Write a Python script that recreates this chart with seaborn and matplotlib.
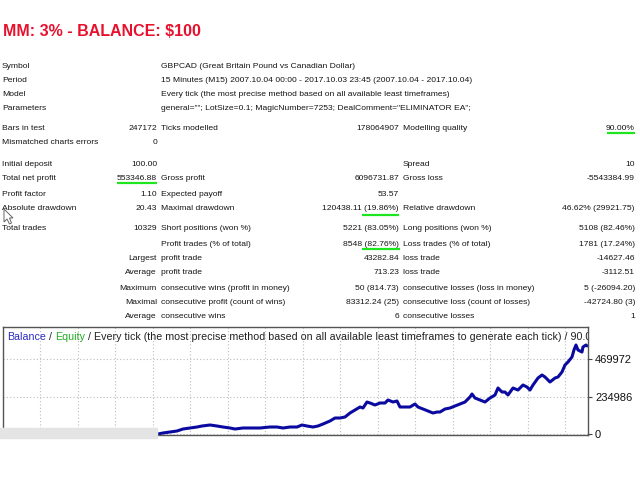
import numpy as np
import pandas as pd
import matplotlib
matplotlib.use("Agg")
import matplotlib.pyplot as plt
import seaborn as sns

# ---- report data ----
title = "MM: 3% - BALANCE: $100"

info_labels = ["Symbol", "Period", "Model", "Parameters"]
info_values = [
    "GBPCAD (Great Britain Pound vs Canadian Dollar)",
    "15 Minutes (M15) 2007.10.04 00:00 - 2017.10.03 23:45 (2007.10.04 - 2017.10.04)",
    "Every tick (the most precise method based on all available least timeframes)",
    'general=""; LotSize=0.1; MagicNumber=7253; DealComment="ELIMINATOR EA";',
]

# six columns: label, value, label, value, label, value
col_label1 = ["Bars in test", "Mismatched charts errors", "Initial deposit", "Total net profit",
              "Profit factor", "Absolute drawdown", "Total trades", "", "", "", "", "", ""]
col_value1 = ["247172", "0", "100.00", "553346.88", "1.10", "20.43", "10329", "",
              "Largest", "Average", "Maximum", "Maximal", "Average"]
col_label2 = ["Ticks modelled", "", "", "Gross profit", "Expected payoff", "Maximal drawdown",
              "Short positions (won %)", "Profit trades (% of total)", "profit trade", "profit trade",
              "consecutive wins (profit in money)", "consecutive profit (count of wins)",
              "consecutive wins"]
col_value2 = ["178064907", "", "", "6096731.87", "53.57", "120438.11 (19.86%)", "5221 (83.05%)",
              "8548 (82.76%)", "43282.84", "713.23", "50 (814.73)", "83312.24 (25)", "6"]
col_label3 = ["Modelling quality", "", "Spread", "Gross loss", "", "Relative drawdown",
              "Long positions (won %)", "Loss trades (% of total)", "loss trade", "loss trade",
              "consecutive losses (loss in money)", "consecutive loss (count of losses)",
              "consecutive losses"]
col_value3 = ["90.00%", "", "10", "-5543384.99", "", "46.62% (29921.75)", "5108 (82.46%)",
              "1781 (17.24%)", "-14627.46", "-3112.51", "5 (-26094.20)", "-42724.80 (3)", "1"]

# balance curve (trade number vs balance)
trades = [0, 144, 312, 480, 625, 793, 961, 1081, 1273, 1441, 1585, 1753, 1874, 2066, 2234,
          2474, 2714, 2882, 3027, 3195, 3363, 3483, 3603, 3747, 3867, 3987, 4155, 4276, 4396,
          4516, 4636, 4756, 4876, 4948, 5044, 5116, 5236, 5356, 5477, 5549, 5669, 5765, 5837,
          5957, 6077, 6197, 6269, 6389, 6509, 6630, 6726, 6798, 6918, 7038, 7158, 7278, 7398,
          7518, 7566, 7638, 7758, 7879, 7999, 8119, 8191, 8287, 8359, 8431, 8551, 8671, 8791,
          8887, 8959, 9032, 9152, 9248, 9320, 9440, 9560, 9632, 9728, 9800, 9872, 9968, 10016,
          10064, 10112, 10208, 10232, 10304, 10329]
balance = [100, 7500, 13800, 20100, 32600, 38900, 45100, 51400, 57700, 51400, 45100, 38900,
           32600, 38900, 38900, 38900, 45100, 45100, 38900, 45100, 45100, 57700, 51400, 45100,
           51400, 63900, 82700, 101500, 101500, 107800, 132900, 151700, 170500, 164200, 201800,
           195600, 183000, 195600, 195600, 214400, 201800, 208100, 170500, 170500, 170500,
           189300, 170500, 158000, 145400, 132900, 139100, 139100, 158000, 164200, 176800,
           189300, 201800, 233200, 252000, 226900, 214400, 201800, 226900, 245700, 289600,
           264500, 264500, 245700, 289600, 277000, 308400, 295800, 277000, 308400, 352300,
           371100, 358500, 327200, 352300, 358500, 389900, 433700, 452500, 483900, 527800,
           559100, 527800, 515200, 546600, 559100, 553446]
balance_ticks = [0, 234986, 469972]

sns.set_theme(style="white")
plt.rcParams["font.family"] = ["Liberation Sans", "DejaVu Sans"]

W, H = 640, 480
fig = plt.figure(figsize=(6.4, 4.8), dpi=100)
fig.patch.set_facecolor("white")

# ---- balance chart ----
ax = fig.add_axes([3 / W, 1 - 435 / H, 585 / W, 108 / H])
df = pd.DataFrame({"trade": trades, "balance": balance})
sns.lineplot(data=df, x="trade", y="balance", ax=ax, color="#0a0aa0", linewidth=2.2)
ax.set_xlim(-3699, 10353)
ax.set_ylim(-5000, 672000)
ax.set_xticks(np.arange(-3699, 10353, 900.75))
ax.set_xticklabels([])
ax.tick_params(axis="x", length=0)
ax.yaxis.tick_right()
ax.set_yticks(balance_ticks)
ax.set_yticklabels([str(v) for v in balance_ticks])
ax.tick_params(axis="y", direction="out", length=3, width=0.8, color="#444444",
               labelsize=8, pad=2, labelcolor="#111111")
ax.grid(True, linestyle=(0, (1, 2)), color="#bdbdbd", linewidth=0.8)
ax.set_xlabel("")
ax.set_ylabel("")
for sp in ax.spines.values():
    sp.set_color("#555555")
    sp.set_linewidth(1.0)

# chart caption, coloured parts, clipped at the frame
fs_cap = 7.7
t1 = ax.text(4 / 585, 0.905, "Balance", color="#2b2bc4", fontsize=fs_cap,
             va="center", ha="left", transform=ax.transAxes, clip_on=True)
t2 = ax.annotate(" / ", xy=(1, 0), xycoords=t1, va="bottom", ha="left",
                 color="#222222", fontsize=fs_cap, clip_on=True)
t3 = ax.annotate("Equity", xy=(1, 0), xycoords=t2, va="bottom", ha="left",
                 color="#22aa22", fontsize=fs_cap, clip_on=True)
ax.annotate(" / Every tick (the most precise method based on all available least timeframes "
            "to generate each tick) / 90.00%", xy=(1, 0), xycoords=t3, va="bottom", ha="left",
            color="#222222", fontsize=fs_cap, clip_on=True)

# ---- report text overlay (pixel coordinates) ----
ov = fig.add_axes([0, 0, 1, 1], zorder=5)
ov.set_xlim(0, W)
ov.set_ylim(H, 0)
ov.axis("off")
ov.patch.set_alpha(0)

ov.text(3, 31, title, color="#e8112d", fontsize=11.5, fontweight="bold",
        va="center", ha="left")

fs = 6.1
tc = "#151515"
info_y = [66, 80, 95, 109]
for y, lab, val in zip(info_y, info_labels, info_values):
    ov.text(2, y, lab, fontsize=fs, color=tc, va="center", ha="left")
    ov.text(161, y, val, fontsize=fs, color=tc, va="center", ha="left")

row_y = [129, 143, 165, 179, 194, 208, 229, 244, 259, 273, 288, 302, 317]
cols = [(col_label1, 2, "left"), (col_value1, 157, "right"), (col_label2, 161, "left"),
        (col_value2, 399, "right"), (col_label3, 403, "left"), (col_value3, 635, "right")]
for texts, x, ha in cols:
    for y, s in zip(row_y, texts):
        if s:
            ov.text(x, y, s, fontsize=fs, color=tc, va="center", ha=ha)

# green highlight underlines
for x0, x1, y in [(607, 635, 133), (117, 157, 183), (362, 399, 215), (362, 400, 249)]:
    ov.plot([x0, x1], [y, y], color="#1ee61e", linewidth=1.6, solid_capstyle="butt")

# mouse pointer left on "Absolute drawdown"
pointer = [(4, 209), (4, 222), (7, 219), (9.5, 224), (11.5, 223), (9.5, 218), (13, 218)]
ov.add_patch(plt.Polygon(pointer, closed=True, facecolor="white", edgecolor="#666666",
                         linewidth=0.7, zorder=7))

# grey strip covering the lower left corner of the chart
ov.add_patch(plt.Rectangle((0, 428), 157, 10, color="#e4e4e4", zorder=6))

fig.savefig("out.png", dpi=100)
